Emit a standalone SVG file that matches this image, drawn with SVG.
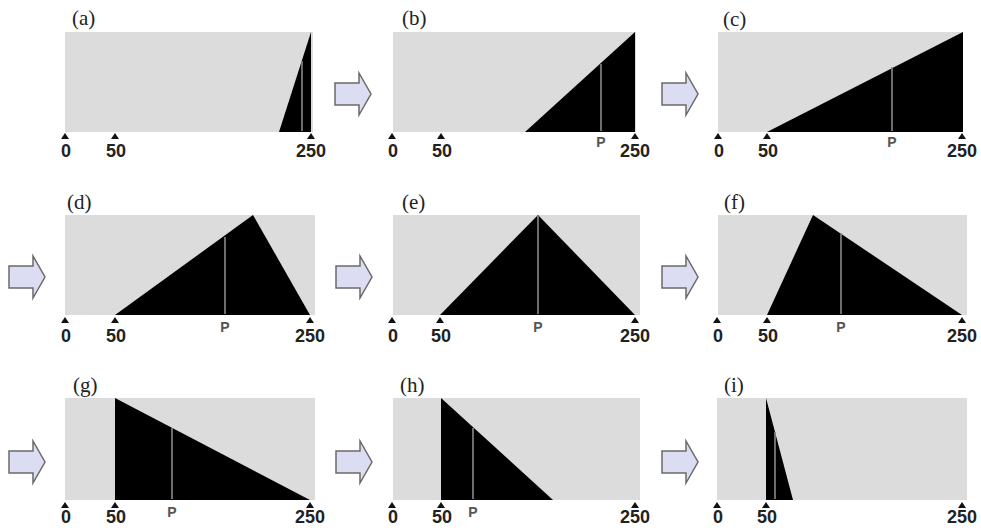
<svg xmlns="http://www.w3.org/2000/svg" xmlns:xlink="http://www.w3.org/1999/xlink" width="981" height="530" viewBox="0 0 981 530">
<style>
.bg{fill:#dcdcdc}
.blk{fill:#000}
.pl{stroke:#8a8a8a;stroke-width:1.6}
.tag{font-family:"Liberation Serif",serif;font-size:21px;fill:#222}
.num{font-family:"Liberation Sans",Arial,sans-serif;font-weight:bold;font-size:18px;fill:#222;text-anchor:middle}
.p{font-family:"Liberation Sans",Arial,sans-serif;font-weight:bold;font-size:14px;fill:#555;text-anchor:middle}
.arr{fill:#dcdcf2;stroke:#6a6a6a;stroke-width:1.5}
</style>
<defs>
<path id="tk" d="M-4,6 L0,0 L4,6 Z" fill="#111"/>
<path id="ar" d="M0,-11 H24 V-21 L36,0 L24,21 V11 H0 Z"/>
</defs>
<rect width="981" height="530" fill="#fff"/>

<g id="panel-a">
<rect class="bg" x="65" y="32" width="248" height="100"/>
<polygon class="blk" points="279,132 311,32 311,132"/>
<line class="pl" x1="302" y1="61" x2="302" y2="131"/>
<text class="tag" x="72" y="25">(a)</text>
<use href="#tk" x="65" y="133"/><use href="#tk" x="115" y="133"/><use href="#tk" x="311" y="133"/>
<text class="num" x="66" y="157">0</text><text class="num" x="116" y="157">50</text><text class="num" x="311" y="157">250</text>
</g>

<g id="panel-b">
<rect class="bg" x="393" y="32" width="243" height="100"/>
<polygon class="blk" points="525,132 635,32 635,132"/>
<line class="pl" x1="601" y1="64" x2="601" y2="131"/>
<text class="tag" x="402" y="25">(b)</text>
<use href="#tk" x="392" y="133"/><use href="#tk" x="441" y="133"/><use href="#tk" x="635" y="133"/>
<text class="num" x="393" y="157">0</text><text class="num" x="442" y="157">50</text><text class="num" x="635" y="157">250</text>
<text class="p" x="601" y="147">P</text>
</g>

<g id="panel-c">
<rect class="bg" x="718" y="32" width="245" height="100"/>
<polygon class="blk" points="767,132 963,32 963,132"/>
<line class="pl" x1="892" y1="67" x2="892" y2="131"/>
<text class="tag" x="723" y="26">(c)</text>
<use href="#tk" x="718" y="133"/><use href="#tk" x="767" y="133"/><use href="#tk" x="962" y="133"/>
<text class="num" x="719" y="157">0</text><text class="num" x="768" y="157">50</text><text class="num" x="962" y="157">250</text>
<text class="p" x="892" y="147">P</text>
</g>

<g id="panel-d">
<rect class="bg" x="65" y="215" width="250" height="100"/>
<polygon class="blk" points="115,315 253,215 310,315"/>
<line class="pl" x1="225" y1="237" x2="225" y2="314"/>
<text class="tag" x="67" y="209">(d)</text>
<use href="#tk" x="65" y="317"/><use href="#tk" x="115" y="317"/><use href="#tk" x="310" y="317"/>
<text class="num" x="66" y="342">0</text><text class="num" x="116" y="342">50</text><text class="num" x="310" y="342">250</text>
<text class="p" x="225" y="332">P</text>
</g>

<g id="panel-e">
<rect class="bg" x="393" y="215" width="247" height="100"/>
<polygon class="blk" points="440,315 538,215 635,315"/>
<line class="pl" x1="538" y1="216" x2="538" y2="314"/>
<text class="tag" x="402" y="209">(e)</text>
<use href="#tk" x="392" y="317"/><use href="#tk" x="440" y="317"/><use href="#tk" x="635" y="317"/>
<text class="num" x="393" y="342">0</text><text class="num" x="441" y="342">50</text><text class="num" x="635" y="342">250</text>
<text class="p" x="538" y="332">P</text>
</g>

<g id="panel-f">
<rect class="bg" x="718" y="215" width="249" height="100"/>
<polygon class="blk" points="767,315 813,215 962,315"/>
<line class="pl" x1="841" y1="233" x2="841" y2="314"/>
<text class="tag" x="724" y="209">(f)</text>
<use href="#tk" x="717" y="317"/><use href="#tk" x="767" y="317"/><use href="#tk" x="962" y="317"/>
<text class="num" x="718" y="342">0</text><text class="num" x="768" y="342">50</text><text class="num" x="962" y="342">250</text>
<text class="p" x="841" y="332">P</text>
</g>

<g id="panel-g">
<rect class="bg" x="65" y="398" width="250" height="102"/>
<polygon class="blk" points="115,398 115,500 310,500"/>
<line class="pl" x1="172" y1="428" x2="172" y2="499"/>
<text class="tag" x="73" y="392">(g)</text>
<use href="#tk" x="65" y="502"/><use href="#tk" x="115" y="502"/><use href="#tk" x="310" y="502"/>
<text class="num" x="66" y="523">0</text><text class="num" x="116" y="523">50</text><text class="num" x="310" y="523">250</text>
<text class="p" x="172" y="517">P</text>
</g>

<g id="panel-h">
<rect class="bg" x="393" y="398" width="247" height="102"/>
<polygon class="blk" points="441,398 441,500 553,500"/>
<line class="pl" x1="473" y1="428" x2="473" y2="499"/>
<text class="tag" x="400" y="392">(h)</text>
<use href="#tk" x="392" y="502"/><use href="#tk" x="441" y="502"/><use href="#tk" x="635" y="502"/>
<text class="num" x="393" y="523">0</text><text class="num" x="442" y="523">50</text><text class="num" x="635" y="523">250</text>
<text class="p" x="473" y="517">P</text>
</g>

<g id="panel-i">
<rect class="bg" x="717" y="398" width="250" height="102"/>
<polygon class="blk" points="766,398 766,500 793,500"/>
<line class="pl" x1="775" y1="432" x2="775" y2="499"/>
<text class="tag" x="724" y="392">(i)</text>
<use href="#tk" x="717" y="502"/><use href="#tk" x="766" y="502"/><use href="#tk" x="962" y="502"/>
<text class="num" x="718" y="523">0</text><text class="num" x="767" y="523">50</text><text class="num" x="962" y="523">250</text>
</g>

<g id="connectors">
<use href="#ar" class="arr" x="335" y="94"/>
<use href="#ar" class="arr" x="662" y="94"/>
<use href="#ar" class="arr" x="9" y="277"/>
<use href="#ar" class="arr" x="336" y="277"/>
<use href="#ar" class="arr" x="662" y="277"/>
<use href="#ar" class="arr" x="9" y="462"/>
<use href="#ar" class="arr" x="336" y="462"/>
<use href="#ar" class="arr" x="662" y="462"/>
</g>
</svg>
